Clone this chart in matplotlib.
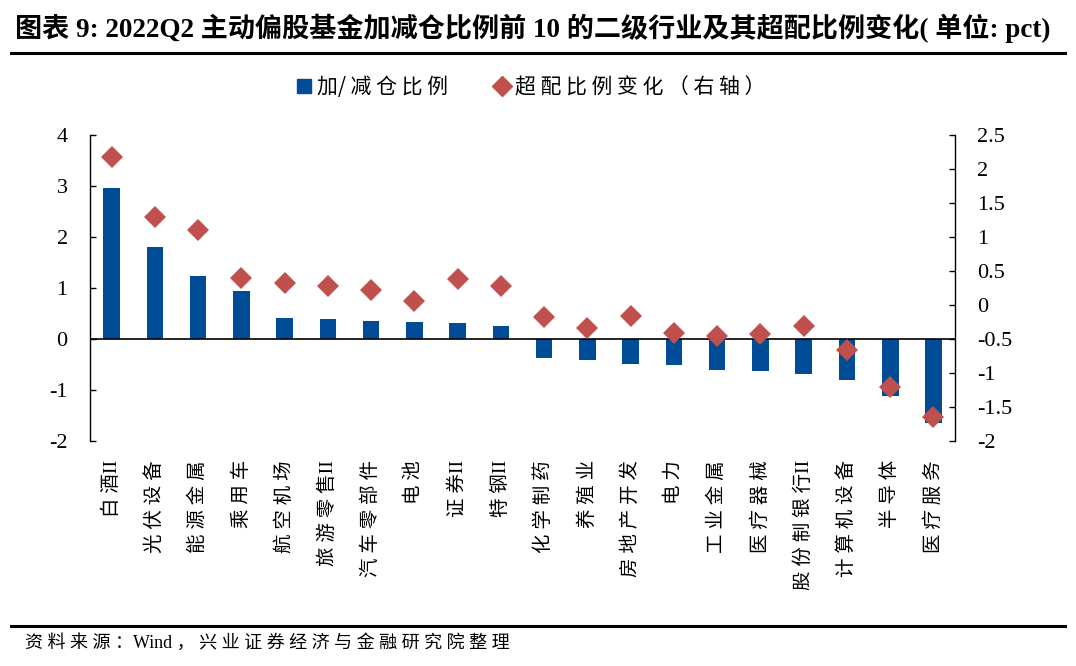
import re
import matplotlib
matplotlib.use("Agg")
import matplotlib.pyplot as plt
from matplotlib.lines import Line2D
from matplotlib.ticker import FormatStrFormatter, MultipleLocator

plt.rcParams['axes.unicode_minus'] = False
plt.rcParams['font.family'] = ['Liberation Serif', 'Noto Sans CJK SC', 'DejaVu Sans']

categories = ['白酒II', '光伏设备', '能源金属', '乘用车', '航空机场', '旅游零售II', '汽车零部件',
              '电池', '证券II', '特钢II', '化学制药', '养殖业', '房地产开发', '电力', '工业金属',
              '医疗器械', '股份制银行II', '计算机设备', '半导体', '医疗服务']
position_change = [2.95, 1.81, 1.24, 0.93, 0.41, 0.39, 0.34, 0.32, 0.31, 0.26,
                   -0.37, -0.42, -0.50, -0.52, -0.61, -0.64, -0.69, -0.80, -1.13, -1.65]
overweight_change = [2.17, 1.29, 1.10, 0.39, 0.32, 0.27, 0.22, 0.05, 0.38, 0.27,
                     -0.18, -0.34, -0.17, -0.41, -0.46, -0.43, -0.31, -0.66, -1.21, -1.65]

title_text = '图表 9: 2022Q2 主动偏股基金加减仓比例前 10 的二级行业及其超配比例变化( 单位: pct)'
legend_labels = ['加/减仓比例', '超配比例变化（右轴）']
source_text = '资料来源：Wind，兴业证券经济与金融研究院整理'

BAR_COLOR = '#004C97'
DOT_COLOR = '#C0504D'


def spaced(label):
    tokens = re.findall(r'[A-Za-z/]+|.', label)
    out = ''
    for i, t in enumerate(tokens):
        if i > 0 and not t.isascii():
            out += ' '
        elif i > 0 and t.isascii() and not tokens[i - 1].isascii():
            out += ''
        out += t
    return out


fig = plt.figure(figsize=(10.76, 6.66), dpi=100)
ax = fig.add_axes([0.0836, 0.3383, 0.8040, 0.4590])
ax2 = ax.twinx()

x = list(range(len(categories)))
ax.bar(x, position_change, width=0.385, color=BAR_COLOR, zorder=2)
ax.axhline(0, color='black', lw=1.2, zorder=3)
ax2.plot(x, overweight_change, linestyle='none', marker='D', markersize=11,
         color=DOT_COLOR, markeredgewidth=0, zorder=4)

ax.set_xlim(-0.5, len(categories) - 0.5)
ax.set_ylim(-2, 4)
ax.yaxis.set_major_locator(MultipleLocator(1))
ax2.set_ylim(-2, 2.5)
ax2.yaxis.set_major_locator(MultipleLocator(0.5))
ax2.yaxis.set_major_formatter(FormatStrFormatter('%g'))
ax.yaxis.set_major_formatter(FormatStrFormatter('%g'))

for a in (ax, ax2):
    a.spines['top'].set_visible(False)
    a.spines['bottom'].set_visible(False)
ax.spines['right'].set_visible(False)
ax2.spines['left'].set_visible(False)
ax.spines['left'].set_linewidth(1.0)
ax2.spines['right'].set_linewidth(1.0)

ax.tick_params(axis='y', direction='in', length=4, width=1, pad=16, labelsize=16)
ax2.tick_params(axis='y', direction='in', length=4, width=1, pad=16, labelsize=16)
ax.set_xticks(x)
ax.set_xticklabels([spaced(c) for c in categories], rotation=90, ha='center', va='top',
                   fontsize=14, family=['Liberation Serif', 'Noto Sans CJK SC'])
ax.tick_params(axis='x', length=0, pad=14)

handles = [Line2D([], [], linestyle='none', marker='s', markersize=10, color=BAR_COLOR),
           Line2D([], [], linestyle='none', marker='D', markersize=10, color=DOT_COLOR)]
fig.legend(handles, [spaced(l) for l in legend_labels], loc='center',
           bbox_to_anchor=(0.493, 0.869), ncol=2,
           frameon=False, handlelength=0.8, handletextpad=0.2, columnspacing=2.2,
           prop={'family': ['Noto Sans CJK SC'], 'size': 15})

fig.text(0.014, 0.958, title_text, fontsize=19.5, fontweight='bold', ha='left', va='center',
         family=['Liberation Serif', 'Noto Sans CJK SC'])
fig.add_artist(Line2D([0.01, 0.99], [0.921, 0.921], color='black', lw=2.2,
                      transform=fig.transFigure))
fig.add_artist(Line2D([0.01, 0.99], [0.060, 0.060], color='black', lw=2.2,
                      transform=fig.transFigure))
fig.text(0.023, 0.034, spaced(source_text), fontsize=13, ha='left', va='center',
         family=['Liberation Serif', 'Noto Sans CJK SC'])

fig.savefig('out.png', dpi=100)
